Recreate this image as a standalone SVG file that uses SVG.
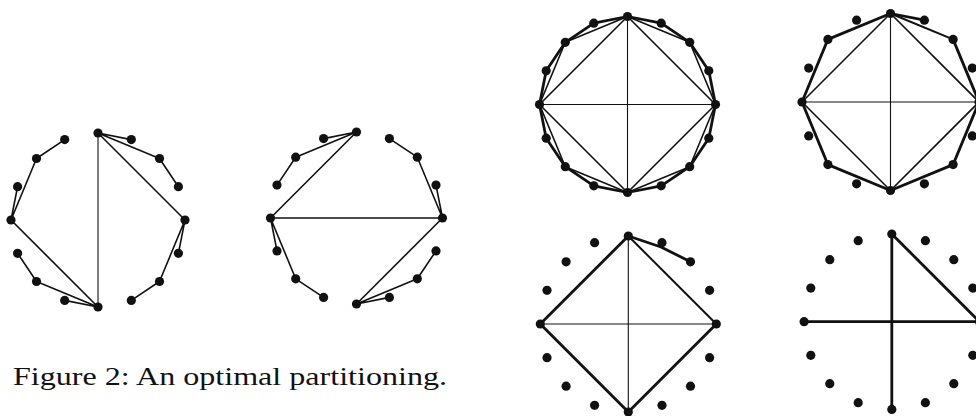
<svg xmlns="http://www.w3.org/2000/svg" width="976" height="416" viewBox="0 0 976 416">
<style>
.n{fill:#111}
.e{stroke:#111;fill:none;stroke-linecap:round;stroke-linejoin:round}
.t1{stroke-width:1.1}
.t2{stroke-width:1.6}
.t3{stroke-width:2}
.t4{stroke-width:2.8}
.cap{font-family:"Liberation Serif","DejaVu Serif",serif;font-size:26px;fill:#111}
</style>
<rect width="976" height="416" fill="#fff"/>

<g id="connectors">
  <g id="edgesA">
    <line class="e t1" x1="98" y1="133" x2="98" y2="307"/>
    <polyline class="e t2" points="131.3,139.6 98,133 159.5,158.5 178.4,186.7"/>
    <line class="e t2" x1="98" y1="133" x2="185" y2="220"/>
    <polyline class="e t2" points="178.4,253.3 185,220 159.5,281.5 131.3,300.4"/>
    <polyline class="e t2" points="64.7,300.4 98,307 36.5,281.5 17.6,253.3"/>
    <line class="e t2" x1="98" y1="307" x2="11" y2="220"/>
    <polyline class="e t2" points="17.6,186.7 11,220 36.5,158.5 64.7,139.6"/>
  </g>
  <g id="edgesB">
    <line class="e t2" x1="270.5" y1="218" x2="442.5" y2="218"/>
    <polyline class="e t2" points="323.6,138.6 356.5,132 295.7,157.2 277,185.1"/>
    <line class="e t2" x1="356.5" y1="132" x2="270.5" y2="218"/>
    <polyline class="e t2" points="277,250.9 270.5,218 295.7,278.8 323.6,297.4"/>
    <polyline class="e t2" points="436,185.1 442.5,218 417.3,157.2 389.4,138.6"/>
    <line class="e t2" x1="442.5" y1="218" x2="356.5" y2="304"/>
    <polyline class="e t2" points="389.4,297.4 356.5,304 417.3,278.8 436,250.9"/>
  </g>
  <g id="edgesC">
    <line class="e t1" x1="627.5" y1="16.5" x2="627.5" y2="192.5"/>
    <line class="e t1" x1="539.5" y1="104.5" x2="715.5" y2="104.5"/>
    <polygon class="e t2" points="627.5,16.5 715.5,104.5 627.5,192.5 539.5,104.5"/>
    <polygon class="e t2" points="627.5,16.5 689.7,42.3 715.5,104.5 689.7,166.7 627.5,192.5 565.3,166.7 539.5,104.5 565.3,42.3"/>
    <polygon class="e t4" points="627.5,16.5 661.2,23.2 689.7,42.3 708.8,70.8 715.5,104.5 708.8,138.2 689.7,166.7 661.2,185.8 627.5,192.5 593.8,185.8 565.3,166.7 546.2,138.2 539.5,104.5 546.2,70.8 565.3,42.3 593.8,23.2"/>
  </g>
  <g id="edgesD">
    <line class="e t1" x1="890.5" y1="13.5" x2="890.5" y2="190.5"/>
    <line class="e t1" x1="802" y1="102" x2="979" y2="102"/>
    <polygon class="e t2" points="890.5,13.5 979,102 890.5,190.5 802,102"/>
    <line class="e t3" x1="890.5" y1="13.5" x2="953.1" y2="39.4"/>
    <line class="e t4" x1="890.5" y1="13.5" x2="924.4" y2="20.2"/>
    <polyline class="e t4" points="953.1,39.4 979,102 953.1,164.6 890.5,190.5 827.9,164.6 802,102 827.9,39.4 890.5,13.5"/>
  </g>
  <g id="edgesE">
    <line class="e t1" x1="628.3" y1="236" x2="628.3" y2="412"/>
    <line class="e t1" x1="540.3" y1="324" x2="716.3" y2="324"/>
    <line class="e t3" x1="628.3" y1="236" x2="716.3" y2="324"/>
    <polyline class="e t4" points="628.3,236 540.3,324 628.3,412 716.3,324"/>
    <polyline class="e t4" points="628.3,236 661,247 690.5,261.8"/>
  </g>
  <g id="edgesF">
    <line class="e t4" x1="891.8" y1="234" x2="891.8" y2="409.4"/>
    <line class="e t4" x1="804.1" y1="321.7" x2="979.5" y2="321.7"/>
    <line class="e t4" x1="891.8" y1="234" x2="979.5" y2="321.7"/>
  </g>
</g>

<g id="graphA">
  <g id="A0"><circle class="n" cx="98" cy="133" r="4.6"/></g>
  <g id="A1"><circle class="n" cx="131.3" cy="139.6" r="4.6"/></g>
  <g id="A2"><circle class="n" cx="159.5" cy="158.5" r="4.6"/></g>
  <g id="A3"><circle class="n" cx="178.4" cy="186.7" r="4.6"/></g>
  <g id="A4"><circle class="n" cx="185" cy="220" r="4.6"/></g>
  <g id="A5"><circle class="n" cx="178.4" cy="253.3" r="4.6"/></g>
  <g id="A6"><circle class="n" cx="159.5" cy="281.5" r="4.6"/></g>
  <g id="A7"><circle class="n" cx="131.3" cy="300.4" r="4.6"/></g>
  <g id="A8"><circle class="n" cx="98" cy="307" r="4.6"/></g>
  <g id="A9"><circle class="n" cx="64.7" cy="300.4" r="4.6"/></g>
  <g id="A10"><circle class="n" cx="36.5" cy="281.5" r="4.6"/></g>
  <g id="A11"><circle class="n" cx="17.6" cy="253.3" r="4.6"/></g>
  <g id="A12"><circle class="n" cx="11" cy="220" r="4.6"/></g>
  <g id="A13"><circle class="n" cx="17.6" cy="186.7" r="4.6"/></g>
  <g id="A14"><circle class="n" cx="36.5" cy="158.5" r="4.6"/></g>
  <g id="A15"><circle class="n" cx="64.7" cy="139.6" r="4.6"/></g>
</g>

<g id="graphB">
  <g id="B0"><circle class="n" cx="356.5" cy="132" r="4.6"/></g>
  <g id="B1"><circle class="n" cx="389.4" cy="138.6" r="4.6"/></g>
  <g id="B2"><circle class="n" cx="417.3" cy="157.2" r="4.6"/></g>
  <g id="B3"><circle class="n" cx="436" cy="185.1" r="4.6"/></g>
  <g id="B4"><circle class="n" cx="442.5" cy="218" r="4.6"/></g>
  <g id="B5"><circle class="n" cx="436" cy="250.9" r="4.6"/></g>
  <g id="B6"><circle class="n" cx="417.3" cy="278.8" r="4.6"/></g>
  <g id="B7"><circle class="n" cx="389.4" cy="297.4" r="4.6"/></g>
  <g id="B8"><circle class="n" cx="356.5" cy="304" r="4.6"/></g>
  <g id="B9"><circle class="n" cx="323.6" cy="297.4" r="4.6"/></g>
  <g id="B10"><circle class="n" cx="295.7" cy="278.8" r="4.6"/></g>
  <g id="B11"><circle class="n" cx="277" cy="250.9" r="4.6"/></g>
  <g id="B12"><circle class="n" cx="270.5" cy="218" r="4.6"/></g>
  <g id="B13"><circle class="n" cx="277" cy="185.1" r="4.6"/></g>
  <g id="B14"><circle class="n" cx="295.7" cy="157.2" r="4.6"/></g>
  <g id="B15"><circle class="n" cx="323.6" cy="138.6" r="4.6"/></g>
</g>

<g id="graphC">
  <g id="C0"><circle class="n" cx="627.5" cy="16.5" r="4.6"/></g>
  <g id="C1"><circle class="n" cx="661.2" cy="23.2" r="4.6"/></g>
  <g id="C2"><circle class="n" cx="689.7" cy="42.3" r="4.6"/></g>
  <g id="C3"><circle class="n" cx="708.8" cy="70.8" r="4.6"/></g>
  <g id="C4"><circle class="n" cx="715.5" cy="104.5" r="4.6"/></g>
  <g id="C5"><circle class="n" cx="708.8" cy="138.2" r="4.6"/></g>
  <g id="C6"><circle class="n" cx="689.7" cy="166.7" r="4.6"/></g>
  <g id="C7"><circle class="n" cx="661.2" cy="185.8" r="4.6"/></g>
  <g id="C8"><circle class="n" cx="627.5" cy="192.5" r="4.6"/></g>
  <g id="C9"><circle class="n" cx="593.8" cy="185.8" r="4.6"/></g>
  <g id="C10"><circle class="n" cx="565.3" cy="166.7" r="4.6"/></g>
  <g id="C11"><circle class="n" cx="546.2" cy="138.2" r="4.6"/></g>
  <g id="C12"><circle class="n" cx="539.5" cy="104.5" r="4.6"/></g>
  <g id="C13"><circle class="n" cx="546.2" cy="70.8" r="4.6"/></g>
  <g id="C14"><circle class="n" cx="565.3" cy="42.3" r="4.6"/></g>
  <g id="C15"><circle class="n" cx="593.8" cy="23.2" r="4.6"/></g>
</g>

<g id="graphD">
  <g id="D0"><circle class="n" cx="890.5" cy="13.5" r="4.6"/></g>
  <g id="D1"><circle class="n" cx="924.4" cy="20.2" r="4.6"/></g>
  <g id="D2"><circle class="n" cx="953.1" cy="39.4" r="4.6"/></g>
  <g id="D3"><circle class="n" cx="972.3" cy="68.1" r="4.6"/></g>
  <g id="D4"><circle class="n" cx="979" cy="102" r="4.6"/></g>
  <g id="D5"><circle class="n" cx="972.3" cy="135.9" r="4.6"/></g>
  <g id="D6"><circle class="n" cx="953.1" cy="164.6" r="4.6"/></g>
  <g id="D7"><circle class="n" cx="924.4" cy="183.8" r="4.6"/></g>
  <g id="D8"><circle class="n" cx="890.5" cy="190.5" r="4.6"/></g>
  <g id="D9"><circle class="n" cx="856.6" cy="183.8" r="4.6"/></g>
  <g id="D10"><circle class="n" cx="827.9" cy="164.6" r="4.6"/></g>
  <g id="D11"><circle class="n" cx="808.7" cy="135.9" r="4.6"/></g>
  <g id="D12"><circle class="n" cx="802" cy="102" r="4.6"/></g>
  <g id="D13"><circle class="n" cx="808.7" cy="68.1" r="4.6"/></g>
  <g id="D14"><circle class="n" cx="827.9" cy="39.4" r="4.6"/></g>
  <g id="D15"><circle class="n" cx="856.6" cy="20.2" r="4.6"/></g>
</g>

<g id="graphE">
  <g id="E0"><circle class="n" cx="628.3" cy="236" r="4.6"/></g>
  <g id="E1"><circle class="n" cx="662" cy="242.7" r="4.6"/></g>
  <g id="E2"><circle class="n" cx="690.5" cy="261.8" r="4.6"/></g>
  <g id="E3"><circle class="n" cx="709.6" cy="290.3" r="4.6"/></g>
  <g id="E4"><circle class="n" cx="716.3" cy="324" r="4.6"/></g>
  <g id="E5"><circle class="n" cx="709.6" cy="357.7" r="4.6"/></g>
  <g id="E6"><circle class="n" cx="690.5" cy="386.2" r="4.6"/></g>
  <g id="E7"><circle class="n" cx="662" cy="405.3" r="4.6"/></g>
  <g id="E8"><circle class="n" cx="628.3" cy="412" r="4.6"/></g>
  <g id="E9"><circle class="n" cx="594.6" cy="405.3" r="4.6"/></g>
  <g id="E10"><circle class="n" cx="566.1" cy="386.2" r="4.6"/></g>
  <g id="E11"><circle class="n" cx="547" cy="357.7" r="4.6"/></g>
  <g id="E12"><circle class="n" cx="540.3" cy="324" r="4.6"/></g>
  <g id="E13"><circle class="n" cx="547" cy="290.3" r="4.6"/></g>
  <g id="E14"><circle class="n" cx="566.1" cy="261.8" r="4.6"/></g>
  <g id="E15"><circle class="n" cx="594.6" cy="242.7" r="4.6"/></g>
</g>

<g id="graphF">
  <g id="F0"><circle class="n" cx="891.8" cy="234" r="4.6"/></g>
  <g id="F1"><circle class="n" cx="925.4" cy="240.7" r="4.6"/></g>
  <g id="F2"><circle class="n" cx="953.8" cy="259.7" r="4.6"/></g>
  <g id="F3"><circle class="n" cx="972.8" cy="288.1" r="4.6"/></g>
  <g id="F4"><circle class="n" cx="979.5" cy="321.7" r="4.6"/></g>
  <g id="F5"><circle class="n" cx="972.8" cy="355.3" r="4.6"/></g>
  <g id="F6"><circle class="n" cx="953.8" cy="383.7" r="4.6"/></g>
  <g id="F7"><circle class="n" cx="925.4" cy="402.7" r="4.6"/></g>
  <g id="F8"><circle class="n" cx="891.8" cy="409.4" r="4.6"/></g>
  <g id="F9"><circle class="n" cx="858.2" cy="402.7" r="4.6"/></g>
  <g id="F10"><circle class="n" cx="829.8" cy="383.7" r="4.6"/></g>
  <g id="F11"><circle class="n" cx="810.8" cy="355.3" r="4.6"/></g>
  <g id="F12"><circle class="n" cx="804.1" cy="321.7" r="4.6"/></g>
  <g id="F13"><circle class="n" cx="810.8" cy="288.1" r="4.6"/></g>
  <g id="F14"><circle class="n" cx="829.8" cy="259.7" r="4.6"/></g>
  <g id="F15"><circle class="n" cx="858.2" cy="240.7" r="4.6"/></g>
</g>

<text class="cap" x="13" y="385" textLength="434" lengthAdjust="spacingAndGlyphs">Figure 2:  An optimal partitioning.</text>
</svg>
